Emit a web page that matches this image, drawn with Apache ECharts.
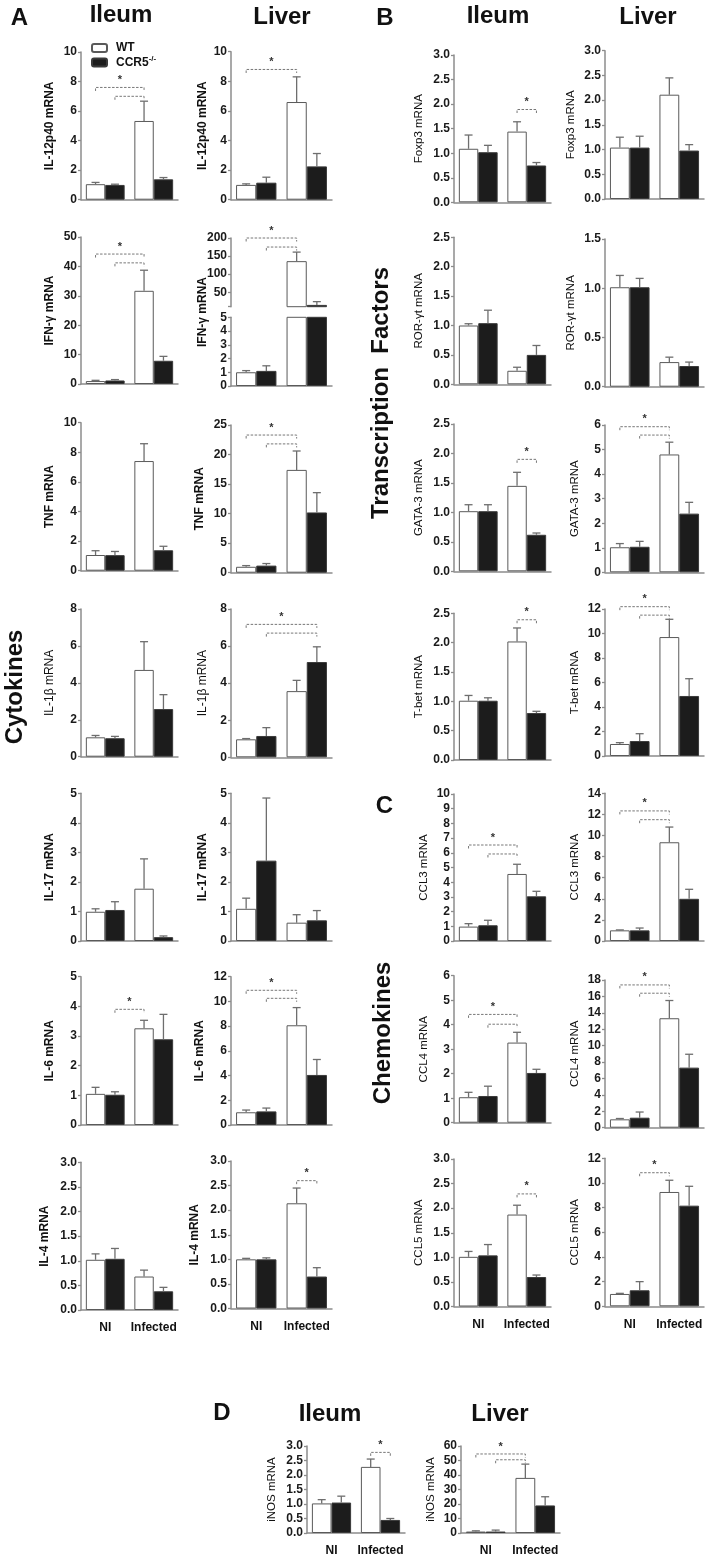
<!DOCTYPE html>
<html><head><meta charset="utf-8">
<script src="https://cdn.jsdelivr.net/npm/echarts@6/dist/echarts.min.js"></script>
<style>html,body{margin:0;padding:0;background:#fff}#c{width:710px;height:1561px}</style>
</head><body><div id="c"></div>
<script>
// ---------------- DATA ----------------
const categories = ['NI', 'Infected'];
const groupNames = ['WT', 'CCR5'];
// Every mean / SEM array is ordered: [WT NI, CCR5-/- NI, WT Infected, CCR5-/- Infected]
// Significance entries: [barA, barB, bracket height (axis units), show star]

// A: Cytokines - Ileum
const IL12p40_ileum_mean = [1.05, 1.0, 5.33, 1.38];
const IL12p40_ileum_sem  = [0.12, 0.05, 1.34, 0.12];
const IL12p40_ileum_sig  = [[0, 2, 7.6, 1], [1, 2, 7.0, 0]];
const IFNg_ileum_mean = [1.0, 1.2, 31.7, 7.9];
const IFNg_ileum_sem  = [0.25, 0.3, 7.0, 1.5];
const IFNg_ileum_sig  = [[0, 2, 44.2, 1], [1, 2, 41.2, 0]];
const TNF_ileum_mean = [1.06, 1.05, 7.41, 1.38];
const TNF_ileum_sem  = [0.29, 0.25, 1.17, 0.27];
const IL1b_ileum_mean = [1.05, 1.0, 4.7, 2.58];
const IL1b_ileum_sem  = [0.1, 0.1, 1.53, 0.78];
const IL17_ileum_mean = [0.99, 1.05, 1.77, 0.13];
const IL17_ileum_sem  = [0.1, 0.28, 1.01, 0.04];
const IL6_ileum_mean = [1.05, 1.02, 3.26, 2.89];
const IL6_ileum_sem  = [0.22, 0.1, 0.27, 0.84];
const IL6_ileum_sig  = [[1, 2, 3.9, 1]];
const IL4_ileum_mean = [1.02, 1.04, 0.68, 0.38];
const IL4_ileum_sem  = [0.12, 0.21, 0.13, 0.08];

// A: Cytokines - Liver
const IL12p40_liver_mean = [1.0, 1.15, 6.6, 2.25];
const IL12p40_liver_sem  = [0.07, 0.37, 1.7, 0.87];
const IL12p40_liver_sig  = [[0, 2, 8.8, 1]];
const IFNg_liver_mean = [1.0, 1.1, 136, 15];
const IFNg_liver_sem  = [0.12, 0.37, 25, 9];
const IFNg_liver_sig  = [[0, 2, 200, 1], [1, 2, 175, 0]];
const TNF_liver_mean = [1.0, 1.2, 17.4, 10.2];
const TNF_liver_sem  = [0.2, 0.35, 3.2, 3.35];
const TNF_liver_sig  = [[0, 2, 23.3, 1], [1, 2, 21.8, 0]];
const IL1b_liver_mean = [0.97, 1.15, 3.57, 5.14];
const IL1b_liver_sem  = [0.04, 0.45, 0.58, 0.82];
const IL1b_liver_sig  = [[0, 3, 7.17, 1], [1, 3, 6.7, 0]];
const IL17_liver_mean = [1.09, 2.72, 0.62, 0.7];
const IL17_liver_sem  = [0.36, 2.12, 0.27, 0.33];
const IL6_liver_mean = [1.03, 1.1, 8.07, 4.05];
const IL6_liver_sem  = [0.18, 0.27, 1.43, 1.25];
const IL6_liver_sig  = [[0, 2, 10.9, 1], [1, 2, 10.25, 0]];
const IL4_liver_mean = [1.0, 1.0, 2.14, 0.65];
const IL4_liver_sem  = [0.02, 0.03, 0.31, 0.18];
const IL4_liver_sig  = [[2, 3, 2.6, 1]];

// B: Transcription factors
const Foxp3_ileum_mean = [1.09, 1.02, 1.44, 0.75];
const Foxp3_ileum_sem  = [0.28, 0.14, 0.2, 0.06];
const Foxp3_ileum_sig  = [[2, 3, 1.89, 1]];
const Foxp3_liver_mean = [1.04, 1.04, 2.11, 0.98];
const Foxp3_liver_sem  = [0.21, 0.23, 0.34, 0.12];
const RORgt_ileum_mean = [1.0, 1.04, 0.23, 0.5];
const RORgt_ileum_sem  = [0.03, 0.22, 0.06, 0.16];
const RORgt_liver_mean = [1.01, 1.01, 0.25, 0.21];
const RORgt_liver_sem  = [0.12, 0.09, 0.05, 0.04];
const GATA3_ileum_mean = [1.02, 1.02, 1.45, 0.62];
const GATA3_ileum_sem  = [0.11, 0.11, 0.23, 0.03];
const GATA3_ileum_sig  = [[2, 3, 1.9, 1]];
const GATA3_liver_mean = [1.02, 1.04, 4.8, 2.39];
const GATA3_liver_sem  = [0.15, 0.22, 0.5, 0.46];
const GATA3_liver_sig  = [[0, 2, 5.93, 1], [1, 2, 5.59, 0]];
const Tbet_ileum_mean = [1.01, 1.01, 2.02, 0.8];
const Tbet_ileum_sem  = [0.09, 0.05, 0.23, 0.03];
const Tbet_ileum_sig  = [[2, 3, 2.39, 1]];
const Tbet_liver_mean = [0.98, 1.22, 9.71, 4.9];
const Tbet_liver_sem  = [0.11, 0.6, 1.45, 1.41];
const Tbet_liver_sig  = [[0, 2, 12.19, 1], [1, 2, 11.5, 0]];

// C: Chemokines
const CCL3_ileum_mean = [0.98, 1.07, 4.56, 3.04];
const CCL3_ileum_sem  = [0.2, 0.34, 0.66, 0.34];
const CCL3_ileum_sig  = [[0, 2, 6.53, 1], [1, 2, 5.92, 0]];
const CCL3_liver_mean = [1.01, 1.01, 9.36, 4.0];
const CCL3_liver_sem  = [0.04, 0.22, 1.44, 0.9];
const CCL3_liver_sig  = [[0, 2, 12.33, 1], [1, 2, 11.5, 0]];
const CCL4_ileum_mean = [1.04, 1.09, 3.27, 2.03];
const CCL4_ileum_sem  = [0.2, 0.4, 0.42, 0.15];
const CCL4_ileum_sig  = [[0, 2, 4.42, 1], [1, 2, 4.02, 0]];
const CCL4_liver_mean = [1.02, 1.22, 13.34, 7.32];
const CCL4_liver_sem  = [0.1, 0.69, 2.16, 1.63];
const CCL4_liver_sig  = [[0, 2, 17.4, 1], [1, 2, 16.39, 0]];
const CCL5_ileum_mean = [1.01, 1.04, 1.87, 0.6];
const CCL5_ileum_sem  = [0.11, 0.22, 0.19, 0.04];
const CCL5_ileum_sig  = [[2, 3, 2.29, 1]];
const CCL5_liver_mean = [1.0, 1.3, 9.27, 8.16];
const CCL5_liver_sem  = [0.05, 0.7, 0.95, 1.57];
const CCL5_liver_sig  = [[1, 2, 10.83, 1]];

// D: iNOS
const iNOS_ileum_mean = [1.02, 1.05, 2.28, 0.45];
const iNOS_ileum_sem  = [0.13, 0.22, 0.27, 0.05];
const iNOS_ileum_sig  = [[2, 3, 2.78, 1]];
const iNOS_liver_mean = [1.0, 1.0, 38, 19];
const iNOS_liver_sem  = [0.5, 1.0, 9.5, 6];
const iNOS_liver_sig  = [[0, 2, 54.5, 1], [1, 2, 50.5, 0]];

// ---------------- LAYOUT / STYLE ----------------
const FONT = "'Liberation Sans', Arial, Helvetica, sans-serif";
const AXIS = '#8c8c8c';
const ERR = '#6e6e6e';
const WT_STYLE = { color: '#ffffff', borderColor: '#5a5a5a', borderWidth: 1 };
const KO_STYLE = { color: '#1c1c1c', borderColor: '#3a3a3a', borderWidth: 1 };
const COLX = [[81, 97], [231, 101], [454, 97], [605, 99]];

// [yAxis name, mean, sem, sig, max, step, column, top, bottom, bold name, gap, show x labels]
const panels = [
  ['IL-12p40 mRNA', IL12p40_ileum_mean, IL12p40_ileum_sem, IL12p40_ileum_sig, 10, 2, 0, 52, 199.7, true, 25, false],
  ['IFN-γ mRNA', IFNg_ileum_mean, IFNg_ileum_sem, IFNg_ileum_sig, 50, 10, 0, 237, 384, true, 25, false],
  ['TNF mRNA', TNF_ileum_mean, TNF_ileum_sem, null, 10, 2, 0, 422.7, 570.7, true, 25, false],
  ['IL-1β mRNA', IL1b_ileum_mean, IL1b_ileum_sem, null, 8, 2, 0, 609, 756.7, false, 25, false],
  ['IL-17 mRNA', IL17_ileum_mean, IL17_ileum_sem, null, 5, 1, 0, 793.3, 941, true, 25, false],
  ['IL-6 mRNA', IL6_ileum_mean, IL6_ileum_sem, IL6_ileum_sig, 5, 1, 0, 976.7, 1125, true, 25, false],
  ['IL-4 mRNA', IL4_ileum_mean, IL4_ileum_sem, null, 3, 0.5, 0, 1162.3, 1310, true, 30, true],

  ['IL-12p40 mRNA', IL12p40_liver_mean, IL12p40_liver_sem, IL12p40_liver_sig, 10, 2, 1, 51.7, 199.7, true, 22, false],
  ['TNF mRNA', TNF_liver_mean, TNF_liver_sem, TNF_liver_sig, 25, 5, 1, 425, 572.7, true, 25, false],
  ['IL-1β mRNA', IL1b_liver_mean, IL1b_liver_sem, IL1b_liver_sig, 8, 2, 1, 609, 757.3, false, 22, false],
  ['IL-17 mRNA', IL17_liver_mean, IL17_liver_sem, null, 5, 1, 1, 793.3, 941, true, 22, false],
  ['IL-6 mRNA', IL6_liver_mean, IL6_liver_sem, IL6_liver_sig, 12, 2, 1, 976.7, 1125, true, 25, false],
  ['IL-4 mRNA', IL4_liver_mean, IL4_liver_sem, IL4_liver_sig, 3, 0.5, 1, 1161, 1308.5, true, 30, true],

  ['Foxp3 mRNA', Foxp3_ileum_mean, Foxp3_ileum_sem, Foxp3_ileum_sig, 3, 0.5, 2, 55, 202.3, false, 29, false],
  ['ROR-γt mRNA', RORgt_ileum_mean, RORgt_ileum_sem, null, 2.5, 0.5, 2, 237.3, 384.3, false, 29, false],
  ['GATA-3 mRNA', GATA3_ileum_mean, GATA3_ileum_sem, GATA3_ileum_sig, 2.5, 0.5, 2, 424, 571.3, false, 29, false],
  ['T-bet mRNA', Tbet_ileum_mean, Tbet_ileum_sem, Tbet_ileum_sig, 2.5, 0.5, 2, 613.3, 760, false, 29, false],
  ['CCL3 mRNA', CCL3_ileum_mean, CCL3_ileum_sem, CCL3_ileum_sig, 10, 1, 2, 794, 941, false, 24, false],
  ['CCL4 mRNA', CCL4_ileum_mean, CCL4_ileum_sem, CCL4_ileum_sig, 6, 1, 2, 975.7, 1122.7, false, 24, false],
  ['CCL5 mRNA', CCL5_ileum_mean, CCL5_ileum_sem, CCL5_ileum_sig, 3, 0.5, 2, 1159, 1306.5, false, 29, true],

  ['Foxp3 mRNA', Foxp3_liver_mean, Foxp3_liver_sem, null, 3, 0.5, 3, 50.7, 199, false, 28, false],
  ['ROR-γt mRNA', RORgt_liver_mean, RORgt_liver_sem, null, 1.5, 0.5, 3, 239, 386.7, false, 28, false],
  ['GATA-3 mRNA', GATA3_liver_mean, GATA3_liver_sem, GATA3_liver_sig, 6, 1, 3, 425, 572.3, false, 24, false],
  ['T-bet mRNA', Tbet_liver_mean, Tbet_liver_sem, Tbet_liver_sig, 12, 2, 3, 609, 756, false, 24, false],
  ['CCL3 mRNA', CCL3_liver_mean, CCL3_liver_sem, CCL3_liver_sig, 14, 2, 3, 793.3, 941, false, 24, false],
  ['CCL4 mRNA', CCL4_liver_mean, CCL4_liver_sem, CCL4_liver_sig, 18, 2, 3, 980, 1127.7, false, 24, false],
  ['CCL5 mRNA', CCL5_liver_mean, CCL5_liver_sem, CCL5_liver_sig, 12, 2, 3, 1158.3, 1306.3, false, 24, true]
];
const panelsD = [
  ['iNOS mRNA', iNOS_ileum_mean, iNOS_ileum_sem, iNOS_ileum_sig, 3, 0.5, [307, 98], 1446, 1533, false, 29, true],
  ['iNOS mRNA', iNOS_liver_mean, iNOS_liver_sem, iNOS_liver_sig, 60, 10, [461, 99], 1446, 1533, false, 24, true]
];

const option = {
  animation: false, backgroundColor: '#fff',
  grid: [], xAxis: [], yAxis: [], series: [],
  legend: {
    left: 86, top: 37, orient: 'vertical', itemWidth: 15, itemHeight: 8, itemGap: 1,
    data: groupNames,
    formatter: n => n === 'CCR5' ? 'CCR5{sup|-/-}' : n,
    textStyle: { fontFamily: FONT, fontWeight: 'bold', fontSize: 12, color: '#111', padding: [0, 0, 0, 4],
      rich: { sup: { fontFamily: FONT, fontWeight: 'bold', fontSize: 8, color: '#111', padding: [0, 0, 7, 0] } } }
  },
  graphic: []
};

function sideX(api, cat, side, v) {
  const c = api.coord([cat, v]);
  const bw = api.size([1, 0])[0];
  return [c[0] + (side ? 0.2 : -0.2) * bw, c[1]];
}
function errRender(lo, hi) {
  return function (params, api) {
    const cat = api.value(0), side = api.value(1), m = api.value(2), t = api.value(3);
    if (m > hi || m < lo) return;
    const p0 = sideX(api, cat, side, m), p1 = sideX(api, cat, side, Math.min(t, hi));
    return { type: 'group', children: [
      { type: 'line', shape: { x1: p0[0], y1: p0[1], x2: p1[0], y2: p1[1] }, style: { stroke: ERR, lineWidth: 1.3 } },
      { type: 'line', shape: { x1: p1[0] - 4, y1: p1[1], x2: p1[0] + 4, y2: p1[1] }, style: { stroke: ERR, lineWidth: 1.3 } }
    ] };
  };
}
function sigRender(params, api) {
  const a = sideX(api, api.value(0), api.value(1), api.value(4));
  const b = sideX(api, api.value(2), api.value(3), api.value(4));
  const y = a[1];
  const ch = [{ type: 'polyline', shape: { points: [[a[0], y + 3.5], [a[0], y], [b[0], y], [b[0], y + 3.5]] },
    style: { stroke: '#777', lineWidth: 1, lineDash: [2.5, 1.5], fill: null } }];
  if (api.value(5)) ch.push({ type: 'text', style: { x: (a[0] + b[0]) / 2, y: y - 2, text: '*', align: 'center', verticalAlign: 'bottom',
    font: 'bold 11px ' + FONT, fill: '#333' } });
  return { type: 'group', children: ch };
}

function addGrid(box, yCfg, mean, sem, sig, showX, opt) {
  const i = option.grid.length;
  option.grid.push({ left: box[0], top: box[1], width: box[2], height: box[3] });
  option.xAxis.push({ gridIndex: i, type: 'category', data: categories, show: !opt.upper,
    axisLine: { lineStyle: { color: AXIS, width: 1.5 } }, axisTick: { show: false },
    axisLabel: { show: showX, interval: 0, margin: 12, color: '#111', fontFamily: FONT, fontWeight: 'bold', fontSize: 12 } });
  const step = yCfg.step;
  option.yAxis.push(Object.assign({ gridIndex: i, type: 'value',
    axisLine: { show: true, lineStyle: { color: AXIS, width: 1.5 } },
    axisTick: { show: true, length: 3, lineStyle: { color: AXIS, width: 1.3 } },
    splitLine: { show: false },
    axisLabel: { margin: 4, color: '#1a1a1a', fontFamily: FONT, fontWeight: 'bold', fontSize: 12,
      formatter: v => step < 1 ? v.toFixed(1) : String(v) } }, yCfg.axis));
  const lo = yCfg.axis.min, hi = yCfg.axis.max;
  const vis = v => (v < lo ? '-' : v);
  option.series.push({ type: 'bar', name: 'WT', xAxisIndex: i, yAxisIndex: i, data: [vis(mean[0]), vis(mean[2])],
    barWidth: '40%', barGap: '0%', itemStyle: WT_STYLE, clip: true });
  option.series.push({ type: 'bar', name: 'CCR5', xAxisIndex: i, yAxisIndex: i, data: [vis(mean[1]), vis(mean[3])],
    barWidth: '40%', barGap: '0%', itemStyle: KO_STYLE, clip: true });
  option.series.push({ type: 'custom', xAxisIndex: i, yAxisIndex: i, encode: { x: 0, y: [2, 3] },
    data: mean.map((m, k) => [Math.floor(k / 2), k % 2, m, m + sem[k]]), renderItem: errRender(lo, hi), z: 3 });
  if (sig && opt.withSig) option.series.push({ type: 'custom', xAxisIndex: i, yAxisIndex: i, encode: { x: [0, 2], y: 4 },
    data: sig.map(s => [Math.floor(s[0] / 2), s[0] % 2, Math.floor(s[1] / 2), s[1] % 2, s[2], s[3]]), renderItem: sigRender, z: 4 });
  return i;
}
function nameCfg(p) {
  return { name: p[0], nameLocation: 'middle', nameGap: p[10],
    nameTextStyle: { fontFamily: FONT, fontWeight: p[9] ? 'bold' : 'normal', fontSize: p[6] >= 2 ? 11.5 : 12, color: '#111' } };
}

panels.forEach(p => {
  const cx = COLX[p[6]];
  const box = [cx[0], p[7], cx[1], p[8] - p[7]];
  addGrid(box, { step: p[5], axis: Object.assign({ min: 0, max: p[4], interval: p[5] }, nameCfg(p)) }, p[1], p[2], p[3], p[11], { withSig: true });
});
panelsD.forEach(p => {
  const box = [p[6][0], p[7], p[6][1], p[8] - p[7]];
  const q = p.slice(); q[6] = 2;
  addGrid(box, { step: p[5], axis: Object.assign({ min: 0, max: p[4], interval: p[5] }, nameCfg(q)) }, p[1], p[2], p[3], p[11], { withSig: true });
});

// IFN-γ liver: broken y-axis (upper 10-200, lower 0-5)
addGrid([231, 238, 101, 68.7], { step: 50, axis: { min: 10, max: 200,
  axisLabel: { customValues: [50, 100, 150, 200], margin: 4, color: '#1a1a1a', fontFamily: FONT, fontWeight: 'bold', fontSize: 12 },
  axisTick: { show: true, length: 3, lineStyle: { color: AXIS, width: 1.3 }, customValues: [10, 50, 100, 150, 200] } } },
  IFNg_liver_mean, IFNg_liver_sem, IFNg_liver_sig, false, { upper: true, withSig: true });
addGrid([231, 317.3, 101, 68.7], { step: 1, axis: { min: 0, max: 5, interval: 1 } },
  IFNg_liver_mean, IFNg_liver_sem, null, false, { withSig: false });

// ---------------- TEXT ----------------
const TF = 'bold 24px ' + FONT;
function txt(x, y, text, font, rot) {
  option.graphic.push({ type: 'text', x: x, y: y, rotation: rot || 0, silent: true,
    style: { text: text, font: font, fill: '#111', align: 'center', verticalAlign: 'middle' } });
}
txt(19.5, 18.5, 'A', TF); txt(121, 15, 'Ileum', TF); txt(282, 17, 'Liver', TF);
txt(385, 18.5, 'B', TF); txt(498, 16, 'Ileum', TF); txt(648, 17, 'Liver', TF);
txt(384.5, 806.5, 'C', TF);
txt(222, 1413, 'D', TF); txt(330, 1414, 'Ileum', TF); txt(500, 1414, 'Liver', TF);
txt(15, 687, 'Cytokines', TF, Math.PI / 2);
txt(381, 393, 'Transcription  Factors', TF, Math.PI / 2);
txt(383, 1033, 'Chemokines', TF, Math.PI / 2);
txt(203, 312, 'IFN-γ mRNA', 'bold 12px ' + FONT, Math.PI / 2);

const chart = echarts.init(document.getElementById('c'), null, { renderer: 'canvas' });
chart.setOption(option);
</script></body></html>
